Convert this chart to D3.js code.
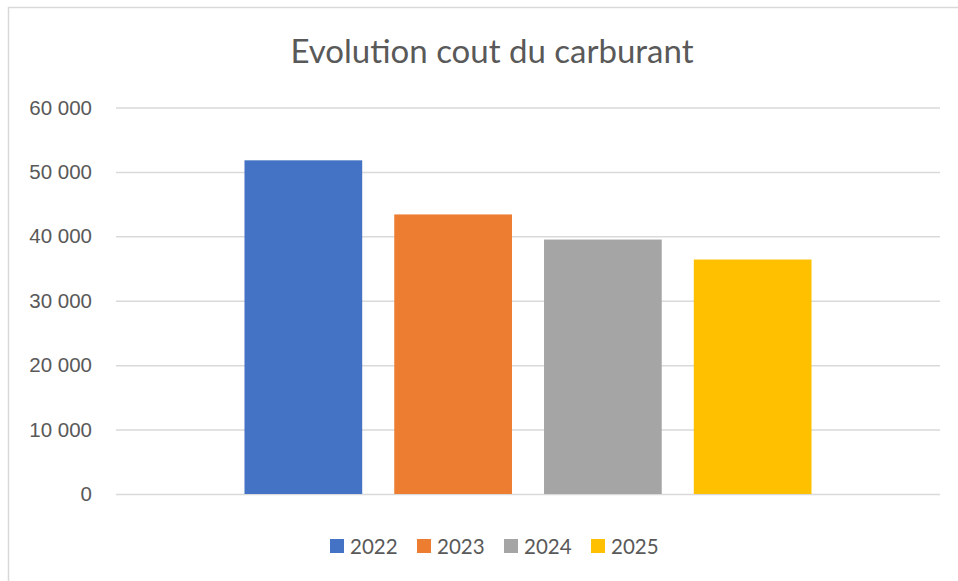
<!DOCTYPE html>
<html>

<head>
    <meta charset="utf-8">
    <style>
        body {
            margin: 0;
            background: #fff;
        }

        svg {
            font-family: Lato, "Open Sans", sans-serif;
        }

        .y .tick line {
            stroke: #d9d9d9;
            stroke-width: 1.5;
        }

        .y .domain {
            display: none;
        }

        .y .tick text {
            font-size: 20.5px;
            fill: #595959;
        }

        .title {
            font-size: 33px;
            fill: #595959;
        }

        .legend text {
            font-size: 20.5px;
            fill: #595959;
        }
    </style>
</head>

<body>
    <svg width="958" height="581"></svg>

    <script src="https://d3js.org/d3.v7.min.js"></script>
    <script>
        // data
        let years = ["2022", "2023", "2024", "2025"]
        let values = [51800, 43400, 39500, 36400]
        let colors = ["#4472C4", "#ED7D31", "#A5A5A5", "#FFC000"]
        let categories = ["Carburant"]
        let yTicks = [0, 10000, 20000, 30000, 40000, 50000, 60000]

        let width = 958;
        let height = 581;
        let margin = { top: 107.5, right: 18, bottom: 87, left: 116 };

        let svg = d3.select("svg")

        // chart frame (only top and left edges show in the crop)
        svg.append("rect")
            .attr("x", 8.5)
            .attr("y", 7.5)
            .attr("width", width + 20)
            .attr("height", height + 20)
            .attr("fill", "none")
            .attr("stroke", "#d9d9d9")
            .attr("stroke-width", 1.5)

        let fr = d3.formatLocale({ decimal: ",", thousands: " ", grouping: [3], currency: ["", " €"] })

        let x0 = d3.scaleBand()
            .domain(categories)
            .range([margin.left, width - margin.right])
            .paddingInner(0)
            .paddingOuter(0.2266)

        let x1 = d3.scaleBand()
            .domain(years)
            .range([0, x0.bandwidth()])
            .paddingInner(0.214)
            .paddingOuter(0)

        let y = d3.scaleLinear()
            .domain([0, 60000])
            .range([height - margin.bottom, margin.top])

        let color = d3.scaleOrdinal()
            .domain(years)
            .range(colors)

        let yAxisSettings = d3.axisLeft(y)
            .tickValues(yTicks)
            .tickSize(-(width - margin.right - margin.left))
            .tickPadding(24)
            .tickFormat(fr.format(","))

        svg.append("g")
            .attr("class", "y axis")
            .attr("transform", `translate(${margin.left},0)`)
            .call(yAxisSettings)
            .call(g => g.selectAll(".domain").remove())

        let rows = years.map((yr, i) => ({ year: yr, value: values[i], cat: categories[0] }))

        svg.append("g")
            .selectAll("rect")
            .data(rows)
            .join("rect")
            .attr("x", d => x0(d.cat) + x1(d.year))
            .attr("width", x1.bandwidth())
            .attr("y", d => y(d.value))
            .attr("height", d => y(0) - y(d.value))
            .attr("fill", d => color(d.year))

        svg.append("text")
            .attr("class", "title")
            .attr("x", 492)
            .attr("y", 63)
            .attr("text-anchor", "middle")
            .text("Evolution cout du carburant")

        // legend
        let legend = svg.append("g")
            .attr("class", "legend")
            .attr("transform", "translate(330,539)")

        let item = legend.selectAll("g")
            .data(years)
            .join("g")
            .attr("transform", (d, i) => `translate(${i * 87},0)`)

        item.append("rect")
            .attr("width", 14)
            .attr("height", 14)
            .attr("fill", d => color(d))

        item.append("text")
            .attr("x", 20)
            .attr("y", 14.5)
            .text(d => d)
    </script>
</body>

</html>
